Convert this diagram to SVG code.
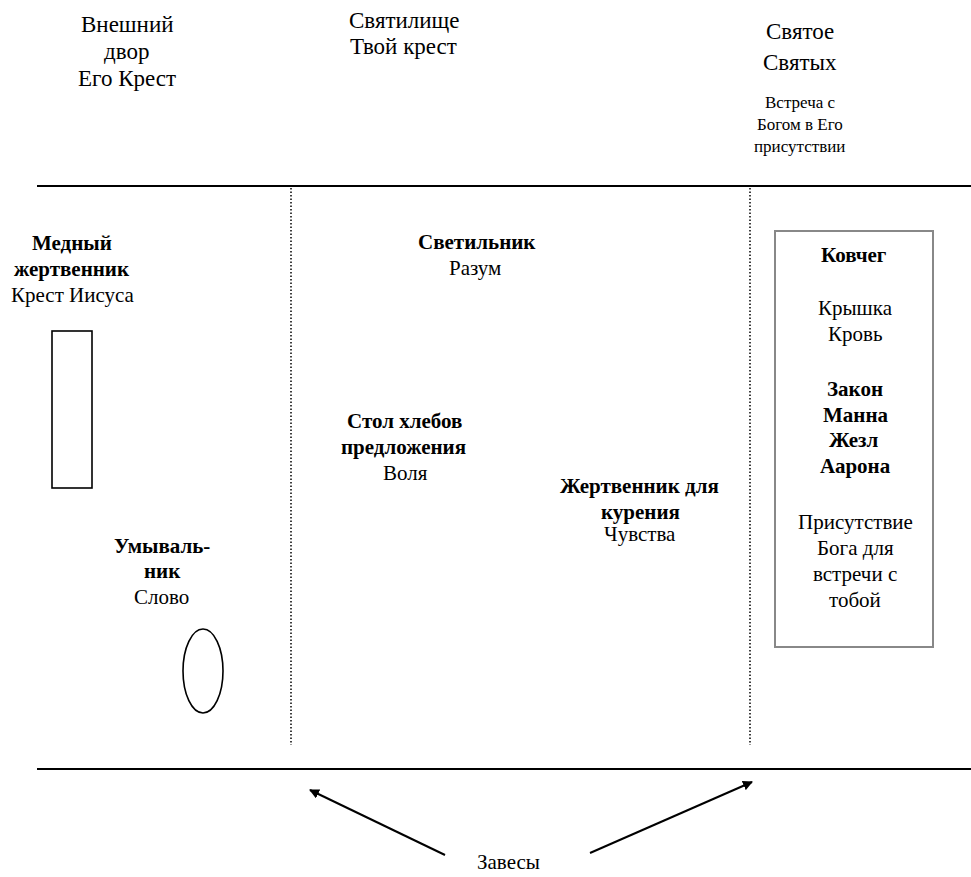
<svg xmlns="http://www.w3.org/2000/svg" width="971" height="877" viewBox="0 0 971 877">
<defs>
<marker id="ah" viewBox="0 0 10 10" refX="9" refY="5" markerWidth="5" markerHeight="5" orient="auto" markerUnits="strokeWidth">
<path d="M0,0 L10,5 L0,10 z" fill="#000"/>
</marker>
</defs>
<g id="headings">
<text x="81" y="32" font-family="Liberation Serif" font-size="23">Внешний</text>
<text x="104" y="59" font-family="Liberation Serif" font-size="23">двор</text>
<text x="78" y="86" font-family="Liberation Serif" font-size="23">Его Крест</text>
<text x="349" y="28" font-family="Liberation Serif" font-size="23">Святилище</text>
<text x="350" y="54" font-family="Liberation Serif" font-size="23">Твой крест</text>
<text x="766" y="39" font-family="Liberation Serif" font-size="23">Святое</text>
<text x="763" y="70" font-family="Liberation Serif" font-size="23">Святых</text>
<text x="765" y="108" font-family="Liberation Serif" font-size="17">Встреча с</text>
<text x="757" y="130" font-family="Liberation Serif" font-size="17">Богом в Его</text>
<text x="754" y="152" font-family="Liberation Serif" font-size="17">присутствии</text>
</g>
<g id="altar">
<text x="32" y="250" font-family="Liberation Serif" font-size="21" font-weight="bold">Медный</text>
<text x="14" y="276" font-family="Liberation Serif" font-size="21" font-weight="bold">жертвенник</text>
<text x="11" y="302" font-family="Liberation Serif" font-size="21">Крест Иисуса</text>
<rect x="52" y="331" width="40" height="157" fill="#fff" stroke="#000" stroke-width="1.6"/>
</g>
<g id="laver">
<text x="114" y="553" font-family="Liberation Serif" font-size="21" font-weight="bold">Умываль-</text>
<text x="144" y="578" font-family="Liberation Serif" font-size="21" font-weight="bold">ник</text>
<text x="134" y="604" font-family="Liberation Serif" font-size="21">Слово</text>
<ellipse cx="203" cy="671" rx="20" ry="42" fill="#fff" stroke="#000" stroke-width="1.6"/>
</g>
<g id="lampstand">
<text x="418" y="249" font-family="Liberation Serif" font-size="21" font-weight="bold">Светильник</text>
<text x="449" y="275" font-family="Liberation Serif" font-size="21">Разум</text>
</g>
<g id="table">
<text x="347" y="428" font-family="Liberation Serif" font-size="21" font-weight="bold">Стол хлебов</text>
<text x="341" y="454" font-family="Liberation Serif" font-size="21" font-weight="bold">предложения</text>
<text x="383" y="480" font-family="Liberation Serif" font-size="21">Воля</text>
</g>
<g id="incense">
<text x="560" y="493" font-family="Liberation Serif" font-size="21" font-weight="bold">Жертвенник для</text>
<text x="601" y="519" font-family="Liberation Serif" font-size="21" font-weight="bold">курения</text>
<text x="604" y="541" font-family="Liberation Serif" font-size="21">Чувства</text>
</g>
<g id="ark">
<rect x="775" y="231" width="158" height="416" fill="#fff" stroke="#888" stroke-width="2"/>
<text x="821" y="262" font-family="Liberation Serif" font-size="21" font-weight="bold">Ковчег</text>
<text x="818" y="315" font-family="Liberation Serif" font-size="21">Крышка</text>
<text x="828" y="341" font-family="Liberation Serif" font-size="21">Кровь</text>
<text x="827" y="396" font-family="Liberation Serif" font-size="21" font-weight="bold">Закон</text>
<text x="823" y="422" font-family="Liberation Serif" font-size="21" font-weight="bold">Манна</text>
<text x="829" y="447" font-family="Liberation Serif" font-size="21" font-weight="bold">Жезл</text>
<text x="820" y="473" font-family="Liberation Serif" font-size="21" font-weight="bold">Аарона</text>
<text x="798" y="529" font-family="Liberation Serif" font-size="21">Присутствие</text>
<text x="817" y="555" font-family="Liberation Serif" font-size="21">Бога для</text>
<text x="813" y="581" font-family="Liberation Serif" font-size="21">встречи с</text>
<text x="829" y="607" font-family="Liberation Serif" font-size="21">тобой</text>
</g>
<g id="veils-label">
<text x="477" y="869" font-family="Liberation Serif" font-size="21">Завесы</text>
</g>
<g id="walls" fill="none" stroke="#000">
<line x1="37" y1="186" x2="971" y2="186" stroke-width="2.2"/>
<line x1="37" y1="769" x2="971" y2="769" stroke-width="2.2"/>
<line x1="291" y1="188" x2="291" y2="745" stroke-width="1.5" stroke-dasharray="1.5 2"/>
<line x1="750" y1="188" x2="750" y2="745" stroke-width="1.5" stroke-dasharray="1.5 2"/>
</g>
<g id="connectors" fill="none" stroke="#000" stroke-width="2" marker-end="url(#ah)">
<line x1="445" y1="855" x2="310" y2="790"/>
<line x1="590" y1="853" x2="752" y2="782"/>
</g>
</svg>
